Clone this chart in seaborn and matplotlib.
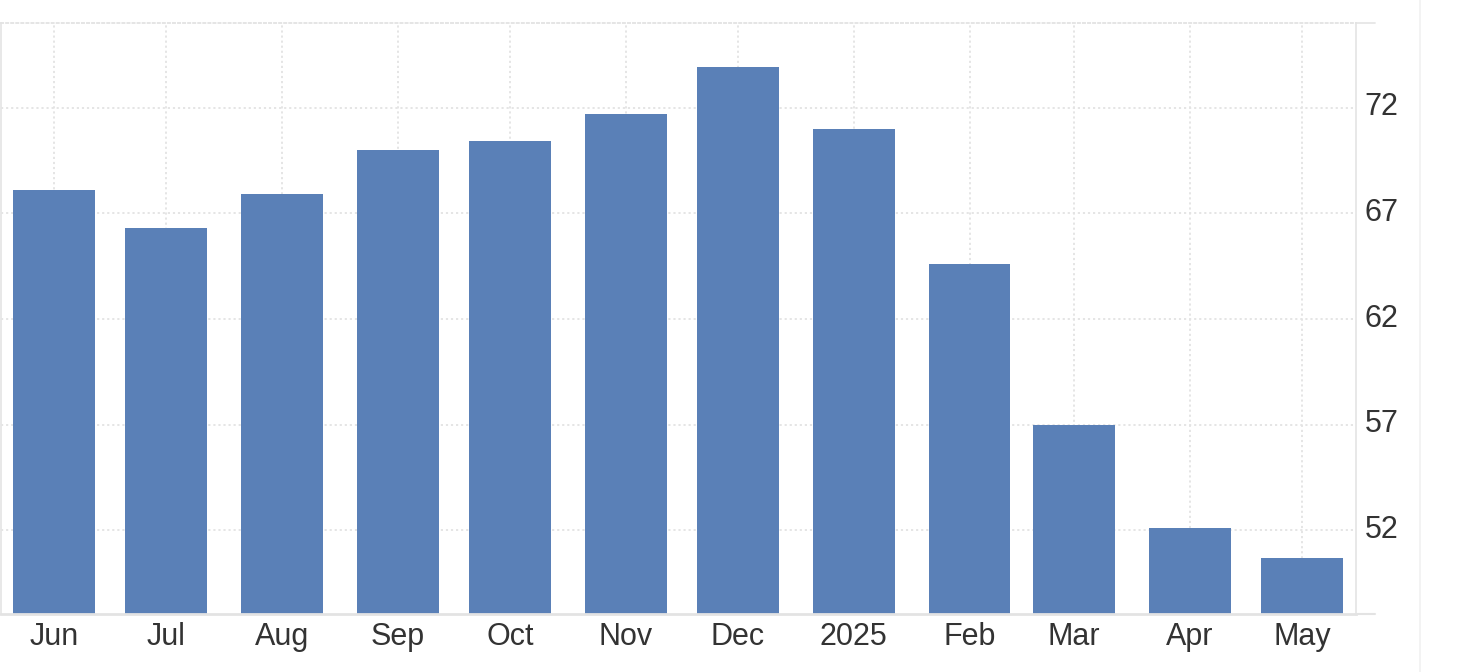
import pandas as pd
import seaborn as sns
import matplotlib.pyplot as plt
import matplotlib.transforms as mtransforms
from matplotlib.lines import Line2D

# Monthly values (Jun 2024 - May 2025)
months = ['2024-06-01', '2024-07-01', '2024-08-01', '2024-09-01', '2024-10-01', '2024-11-01',
          '2024-12-01', '2025-01-01', '2025-02-01', '2025-03-01', '2025-04-01', '2025-05-01']
values = [68.1, 66.3, 67.9, 70.0, 70.4, 71.7, 73.9, 71.0, 64.6, 57.0, 52.1, 50.7]
tick_labels = ['Jun', 'Jul', 'Aug', 'Sep', 'Oct', 'Nov', 'Dec', '2025', 'Feb', 'Mar', 'Apr', 'May']
y_ticks = [52, 57, 62, 67, 72]

dates = pd.to_datetime(months)
df = pd.DataFrame({'day': (dates - dates[0]).days, 'value': values})

sns.set_style('white')
plt.rcParams['font.family'] = ['Liberation Sans', 'DejaVu Sans']

fig = plt.figure(figsize=(14.58, 6.72), dpi=100)
ax = fig.add_axes([1 / 1458, 58 / 672, 1355 / 1458, 591 / 672])

sns.barplot(data=df, x='day', y='value', native_scale=True, width=0.78,
            color='#5a80b7', saturation=1, linewidth=0, ax=ax)

ax.set_xlim(df['day'].iloc[0] - 14.2, df['day'].iloc[-1] + 14.4)
ax.set_ylim(48.05, 76.0)
ax.set_xticks(df['day'])
ax.set_xticklabels(tick_labels)
ax.set_yticks(y_ticks)
ax.yaxis.tick_right()
ax.set_xlabel('')
ax.set_ylabel('')

ax.set_axisbelow(True)
ax.grid(True, color='#e3e3e3', linestyle=(0, (1.2, 1.6)), linewidth=1.3)
ax.tick_params(axis='both', labelsize=22, colors='#333333', length=0)
ax.tick_params(axis='x', pad=6)
ax.tick_params(axis='y', pad=6)

# y labels sit slightly above their gridlines
shift = mtransforms.ScaledTranslation(0, 4 / 100, fig.dpi_scale_trans)
for lab in ax.get_yticklabels():
    lab.set_transform(lab.get_transform() + shift)

for side in ['left', 'right']:
    ax.spines[side].set_color('#e6e6e6')
    ax.spines[side].set_linewidth(1.3)
ax.spines['bottom'].set_color('#e3e3e3')
ax.spines['bottom'].set_linewidth(2)
ax.spines['top'].set_color('#e3e3e3')
ax.spines['top'].set_linestyle((0, (1.2, 1.6)))
ax.spines['top'].set_linewidth(1.3)

# short extensions to the right of the plot area
ax.plot([1, 1.014], [1, 1], transform=ax.transAxes, color='#e6e6e6', lw=1.3, clip_on=False)
ax.plot([1, 1.014], [0, 0], transform=ax.transAxes, color='#e3e3e3', lw=1.5, clip_on=False)
fig.add_artist(Line2D([1420 / 1458] * 2, [0, 1], color='#f2f2f2', lw=1.3))

plt.savefig('out.png', dpi=100)
